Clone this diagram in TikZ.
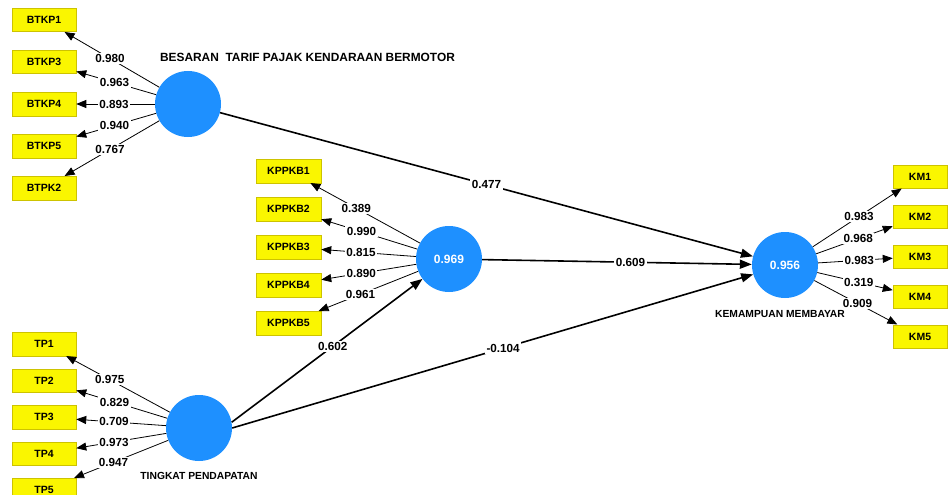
\documentclass[tikz,border=0pt]{standalone}
\usepackage{fontspec}
\setmainfont{Liberation Sans}
\usetikzlibrary{
    positioning,  % For placing the indicator boxes relative to each other
    arrows.meta   % For the triangle arrow tips
}
\definecolor{lvblue}{RGB}{30,144,255}
\definecolor{indyellow}{RGB}{250,246,0}
\definecolor{indborder}{RGB}{205,195,0}

\begin{document}
\begin{tikzpicture}[
    x=1pt, y=-1pt,
    % Style for the blue latent variables
    latent_style/.style={
        circle, fill=lvblue,
        minimum size=66pt, inner sep=0pt,
        text=white, font=\fontsize{12}{14}\selectfont\bfseries
    },
    % Style for the yellow indicator boxes
    ind_style/.style={
        draw=indborder, fill=indyellow, line width=0.5pt,
        minimum width=64pt, minimum height=23.5pt, inner sep=1pt,
        font=\fontsize{10.5}{12}\selectfont\bfseries
    },
    % Style for the construct names
    name_style/.style={
        inner sep=0pt,
        font=\fontsize{10.3}{12}\selectfont\bfseries
    },
    % Style for the outer loading arrows (thin)
    load_style/.style={
        line width=0.8pt,
        -{Triangle[length=10pt, width=8pt]}
    },
    % Style for the path arrows (thick)
    path_style/.style={
        line width=1.6pt,
        -{Triangle[length=12pt, width=9pt]}
    },
    % Style for the numbers on the arrows
    coef_style/.style={
        fill=white, inner sep=1.5pt,
        font=\fontsize{11.7}{13}\selectfont\bfseries
    }
]
    \useasboundingbox (0,0) rectangle (948,495);

    % 1. Latent variables.
    \node[latent_style] (btkp) at (188,104) {};
    \node[latent_style] (kppkb) at (449,259) {0.969};
    \node[latent_style] (tp) at (199,428) {};
    \node[latent_style] (km) at (785,265) {0.956};

    \node[name_style, font=\fontsize{11.9}{13}\selectfont\bfseries, above=9pt of btkp, xshift=119.5pt] (btkp_name) {BESARAN\ \ TARIF PAJAK KENDARAAN BERMOTOR};
    \node[name_style, below=11pt of tp] (tp_name) {TINGKAT PENDAPATAN};
    \node[name_style, below=12pt of km, xshift=-5pt] (km_name) {KEMAMPUAN MEMBAYAR};

    % 2. Indicator boxes.
    \node[ind_style] (btkp1) at (44,20) {BTKP1};
    \node[ind_style, below=18pt of btkp1] (btkp3) {BTKP3};
    \node[ind_style, below=18pt of btkp3] (btkp4) {BTKP4};
    \node[ind_style, below=18pt of btkp4] (btkp5) {BTKP5};
    \node[ind_style, below=18pt of btkp5] (btpk2) {BTPK2};

    \node[ind_style, minimum width=65pt] (kppkb1) at (288.5,171) {KPPKB1};
    \node[ind_style, minimum width=65pt, below=14pt of kppkb1] (kppkb2) {KPPKB2};
    \node[ind_style, minimum width=65pt, below=14pt of kppkb2] (kppkb3) {KPPKB3};
    \node[ind_style, minimum width=65pt, below=14pt of kppkb3] (kppkb4) {KPPKB4};
    \node[ind_style, minimum width=65pt, below=14pt of kppkb4] (kppkb5) {KPPKB5};

    \node[ind_style] (tp1) at (44,344) {TP1};
    \node[ind_style, below=12.5pt of tp1] (tp2) {TP2};
    \node[ind_style, below=12.5pt of tp2] (tp3) {TP3};
    \node[ind_style, below=12.5pt of tp3] (tp4) {TP4};
    \node[ind_style, below=12.5pt of tp4] (tp5) {TP5};

    \node[ind_style, minimum width=54pt] (km1) at (920,176.5) {KM1};
    \node[ind_style, minimum width=54pt, below=16pt of km1] (km2) {KM2};
    \node[ind_style, minimum width=54pt, below=16pt of km2] (km3) {KM3};
    \node[ind_style, minimum width=54pt, below=16pt of km3] (km4) {KM4};
    \node[ind_style, minimum width=54pt, below=16pt of km4] (km5) {KM5};

    % 3. Outer loadings (arrows point to the indicators).
    \draw[load_style] (btkp) -- node[coef_style, pos=0.52] {0.980} (btkp1);
    \draw[load_style] (btkp) -- node[coef_style, pos=0.52] {0.963} (btkp3);
    \draw[load_style] (btkp) -- node[coef_style, pos=0.52] {0.893} (btkp4);
    \draw[load_style] (btkp) -- node[coef_style, pos=0.52] {0.940} (btkp5);
    \draw[load_style] (btkp) -- node[coef_style, pos=0.52] {0.767} (btpk2);

    \draw[load_style] (kppkb) -- node[coef_style, pos=0.58] {0.389} (kppkb1);
    \draw[load_style] (kppkb) -- node[coef_style, pos=0.58] {0.990} (kppkb2);
    \draw[load_style] (kppkb) -- node[coef_style, pos=0.58] {0.815} (kppkb3);
    \draw[load_style] (kppkb) -- node[coef_style, pos=0.58] {0.890} (kppkb4);
    \draw[load_style] (kppkb) -- node[coef_style, pos=0.58] {0.961} (kppkb5);

    \draw[load_style] (tp) -- node[coef_style, pos=0.58] {0.975} (tp1);
    \draw[load_style] (tp) -- node[coef_style, pos=0.58] {0.829} (tp2);
    \draw[load_style] (tp) -- node[coef_style, pos=0.58] {0.709} (tp3);
    \draw[load_style] (tp) -- node[coef_style, pos=0.58] {0.973} (tp4);
    \draw[load_style] (tp) -- node[coef_style, pos=0.58] {0.947} (tp5);

    \draw[load_style] (km) -- node[coef_style, pos=0.52] {0.983} (km1);
    \draw[load_style] (km) -- node[coef_style, pos=0.55] {0.968} (km2);
    \draw[load_style] (km) -- node[coef_style, pos=0.55] {0.983} (km3);
    \draw[load_style] (km) -- node[coef_style, pos=0.55] {0.319} (km4);
    \draw[load_style] (km) -- node[coef_style, pos=0.52] {0.909} (km5);

    % 4. Inner model paths.
    \draw[path_style] (btkp) -- node[coef_style, pos=0.5] {0.477} (km);
    \draw[path_style] (kppkb) -- node[coef_style, pos=0.55] {0.609} (km);
    \draw[path_style] (tp.10) -- node[coef_style, pos=0.53] {0.602} (kppkb);
    \draw[path_style] (tp.east) -- node[coef_style, pos=0.52] {-0.104} (km);

\end{tikzpicture}
\end{document}
